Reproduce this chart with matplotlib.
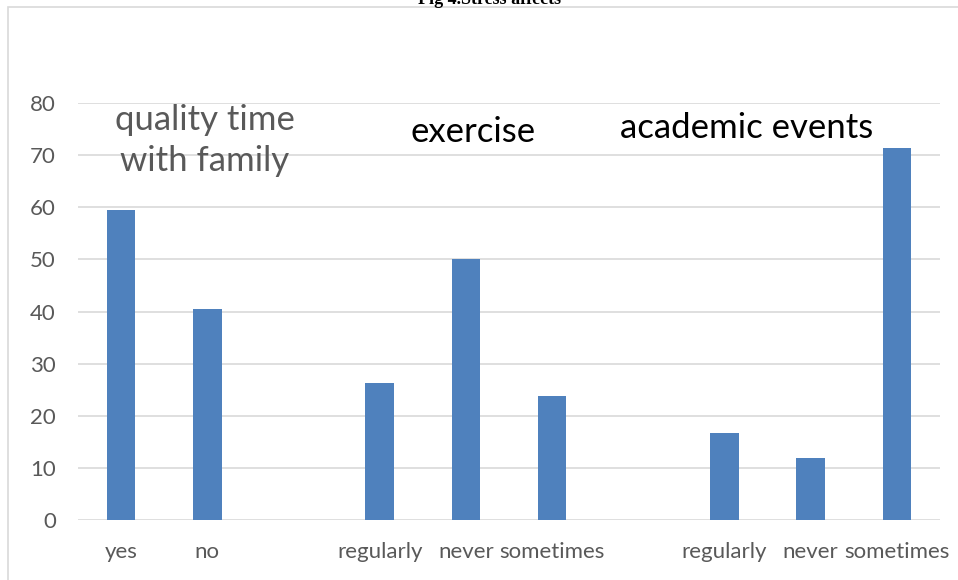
import matplotlib.pyplot as plt
from matplotlib.patches import Rectangle

# dados
categorias = ['yes', 'no', '', 'regularly', 'never', 'sometimes',
              '', 'regularly', 'never', 'sometimes']
valores = [59.5, 40.4, 0, 26.2, 50.0, 23.8, 0, 16.7, 11.9, 71.4]
grupos = ['quality time\nwith family', 'exercise', 'academic events']
titulo = 'Fig 4.Stress affects'

plt.rcParams['font.family'] = ['Lato', 'DejaVu Sans']

fig = plt.figure(figsize=(9.58, 5.8), dpi=100)
ax = fig.add_axes([0.0814, 0.1034, 0.8998, 0.719])

x = list(range(len(categorias)))
ax.bar(x, valores, width=0.33, color='#4f81bd', zorder=3)

ax.set_xlim(-0.5, len(categorias) - 0.5)
ax.set_ylim(0, 80)
ax.set_yticks(range(0, 81, 10))
ax.set_xticks(x)
ax.set_xticklabels(categorias)
ax.grid(axis='y', color='#d9d9d9', linewidth=1.2, zorder=0)
for s in ax.spines.values():
    s.set_visible(False)
ax.tick_params(length=0, labelsize=16, colors='#595959')
ax.tick_params(axis='x', pad=16)
ax.tick_params(axis='y', pad=16)

# rótulos dos grupos
ax.text(0.97, 72.8, grupos[0], ha='center', va='center', fontsize=25,
        color='#595959', linespacing=1.38)
ax.text(4.08, 74.5, grupos[1], ha='center', va='center', fontsize=25,
        color='black')
ax.text(7.26, 75.2, grupos[2], ha='center', va='center', fontsize=25,
        color='black')

# moldura e título cortado
fig.patches.append(Rectangle((8 / 958, -0.1), 1.0, 1 - 7 / 580 + 0.1,
                             transform=fig.transFigure, fill=False,
                             edgecolor='#d9d9d9', linewidth=1.2))
fig.text(490 / 958, 1 - 4 / 580, titulo, ha='center', va='baseline',
         fontsize=13, fontweight='bold', family='Liberation Serif')

fig.savefig('out.png', dpi=100)
